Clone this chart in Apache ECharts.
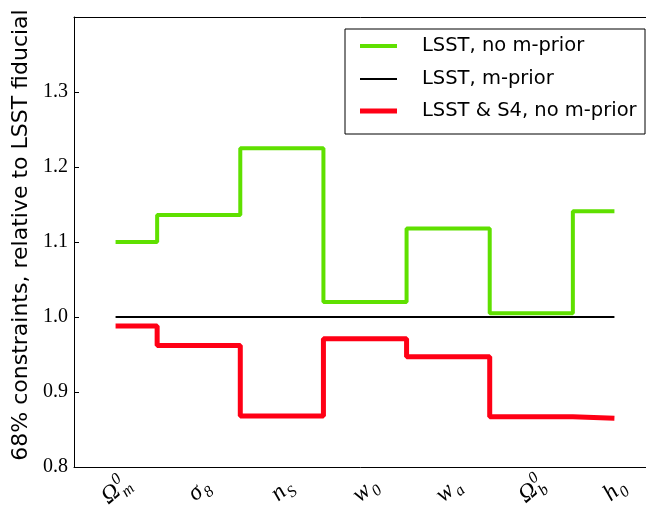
<!DOCTYPE html>
<html>
<head>
<meta charset="utf-8">
<script src="https://cdn.jsdelivr.net/npm/echarts@6/dist/echarts.min.js"></script>
<style>html,body{margin:0;padding:0;background:#fff;}#c{width:646px;height:515px;}</style>
</head>
<body>
<div id="c"></div>
<script>
var categories = ['Om', 's8', 'nS', 'w0', 'wa', 'Ob', 'h0'];
var labelMain = ['Ω', 'σ', 'n', 'w', 'w', 'Ω', 'h'];
var labelSub = ['m', '8', 'S', '0', 'a', 'b', '0'];
var labelSup = ['0', '', '', '', '', '0', ''];
var lsstNoPrior = [1.100, 1.136, 1.225, 1.020, 1.118, 1.005, 1.141];
var lsstPrior = [1.0, 1.0, 1.0, 1.0, 1.0, 1.0, 1.0];
var lsstS4NoPrior = [0.988, 0.962, 0.868, 0.971, 0.947, 0.867, 0.865];
var yTicks = [0.8, 0.9, 1.0, 1.1, 1.2, 1.3];
var seriesNames = ['LSST, no m-prior', 'LSST, m-prior', 'LSST & S4, no m-prior'];
var seriesColors = ['#5fe000', '#000000', '#ff0015'];
var seriesWidths = [4, 2, 5];

var chart = echarts.init(document.getElementById('c'));
var serif = 'Liberation Serif';
var legendTops = [36, 69, 101];
var legends = seriesNames.map(function (n, i) {
  return {
    orient: 'vertical',
    left: 360, top: legendTops[i],
    padding: 0,
    icon: 'rect',
    itemWidth: 37, itemHeight: seriesWidths[i],
    textStyle: { fontFamily: 'DejaVu Sans', fontSize: 19.5, color: '#000', padding: [0, 0, 0, 20] },
    data: [n]
  };
});
var datas = [lsstNoPrior, lsstPrior, lsstS4NoPrior];
var option = {
  animation: false,
  grid: { left: 74, top: 17, right: -10, bottom: 48, containLabel: false, outerBoundsMode: 'none' },
  legend: legends,
  xAxis: [{
    type: 'category',
    data: categories,
    boundaryGap: true,
    axisLine: { lineStyle: { color: '#000', width: 1 } },
    axisTick: { inside: true, alignWithLabel: true, length: 5, lineStyle: { color: '#000' } },
    axisLabel: { show: false },
    splitLine: { show: false }
  }, {
    type: 'category',
    data: categories,
    position: 'top',
    boundaryGap: true,
    axisLine: { lineStyle: { color: '#000', width: 1 } },
    axisTick: { inside: true, alignWithLabel: true, length: 5, lineStyle: { color: '#000' } },
    axisLabel: { show: false },
    splitLine: { show: false }
  }],
  yAxis: {
    type: 'value',
    min: 0.8, max: 1.4, interval: 0.1,
    name: '68% constraints, relative to LSST fiducial',
    nameLocation: 'middle',
    nameGap: 40,
    nameTextStyle: { fontFamily: 'DejaVu Sans', fontSize: 22, color: '#000', padding: [0, 0, 0, 14] },
    axisLine: { show: true, lineStyle: { color: '#000', width: 1 } },
    axisTick: { show: true, inside: true, length: 5, lineStyle: { color: '#000' } },
    axisLabel: {
      showMaxLabel: false,
      margin: 6,
      fontFamily: serif, fontSize: 20, color: '#000',
      formatter: function (v) { return yTicks.indexOf(Math.round(v * 10) / 10) >= 0 ? v.toFixed(1) : ''; }
    },
    splitLine: { show: false }
  },
  series: seriesNames.map(function (n, i) {
    var s = {
      name: n, type: 'line', data: datas[i],
      symbol: 'none', color: seriesColors[i],
      lineStyle: { color: seriesColors[i], width: seriesWidths[i] }, z: 2 + i
    };
    if (i !== 1) s.step = 'middle';
    return s;
  })
};
chart.setOption(option);

// rotated math tick labels placed at the axis' own tick positions
var mainFont = 'italic 24px "Liberation Serif"';
var smallFont = 'italic 16px "Liberation Serif"';
var mctx = document.createElement('canvas').getContext('2d');
function tw(t, f) { mctx.font = f; return mctx.measureText(t).width; }
var theta = 0.7;
var cs = Math.cos(theta), sn = Math.sin(theta);
var baseY = chart.convertToPixel({ yAxisIndex: 0 }, 0.8);
var labelGraphics = [];
function addText(cx, cy, dx, dy, text, font) {
  labelGraphics.push({
    type: 'text',
    x: cx + dx * cs + dy * sn,
    y: cy - dx * sn + dy * cs,
    rotation: theta,
    style: { text: text, font: font, fill: '#000' }
  });
}
categories.forEach(function (c, i) {
  var cx = chart.convertToPixel({ xAxisIndex: 0 }, c) + 1;
  var cy = baseY + 24;
  var mw = tw(labelMain[i], mainFont);
  var sw = Math.max(tw(labelSub[i], smallFont), tw(labelSup[i], smallFont));
  var x0 = -(mw + sw + 1) / 2;
  addText(cx, cy, x0, -13, labelMain[i], mainFont);
  addText(cx, cy, x0 + mw + 1, -1, labelSub[i], smallFont);
  if (labelSup[i]) addText(cx, cy, x0 + mw + 1, -17, labelSup[i], smallFont);
});
labelGraphics.push({
  type: 'rect', x: 345, y: 29, z: 100,
  shape: { width: 300, height: 105 },
  style: { fill: 'rgba(0,0,0,0)', stroke: '#000', lineWidth: 1 }
});
option.graphic = labelGraphics;
chart.setOption(option, true);
</script>
</body>
</html>
